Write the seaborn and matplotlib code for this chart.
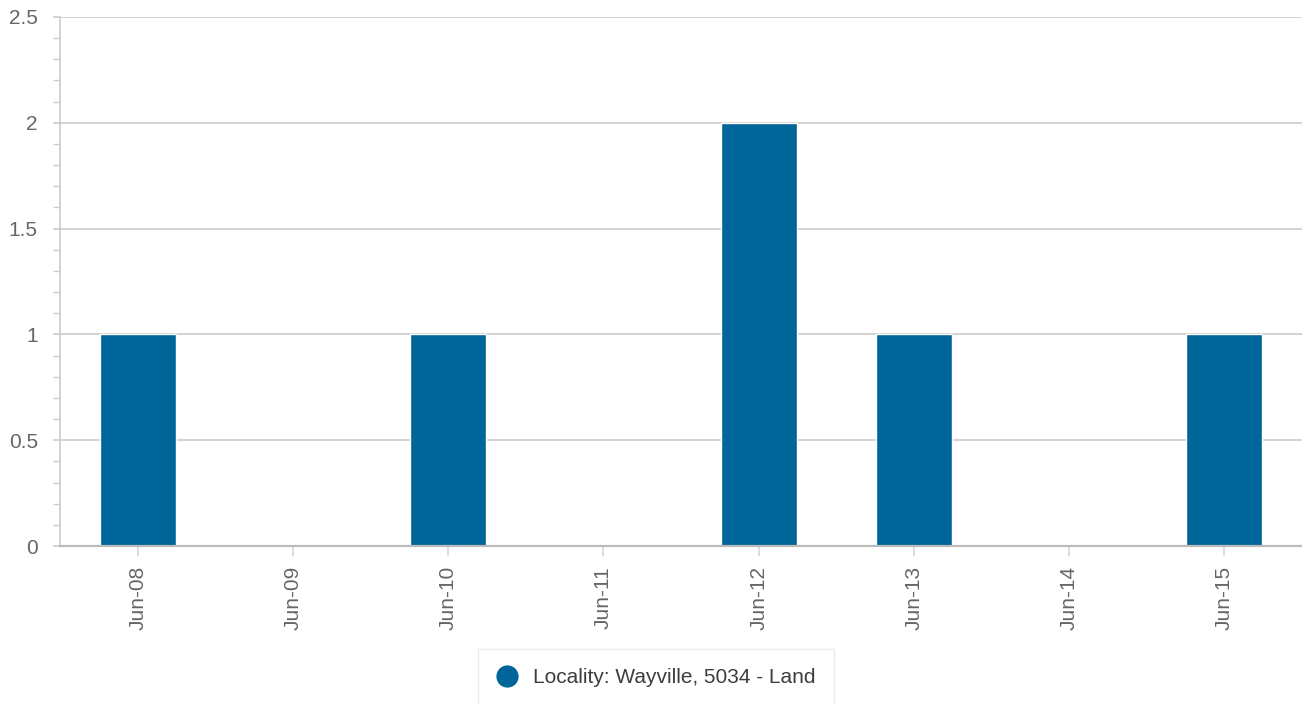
import matplotlib
matplotlib.use("Agg")
import matplotlib.pyplot as plt
import pandas as pd
import seaborn as sns
from matplotlib.lines import Line2D
from matplotlib.ticker import AutoMinorLocator, MultipleLocator, FormatStrFormatter

months = ["Jun-08", "Jun-09", "Jun-10", "Jun-11", "Jun-12", "Jun-13", "Jun-14", "Jun-15"]
counts = [1, 0, 1, 0, 2, 1, 0, 1]
series_name = "Locality: Wayville, 5034 - Land"

BAR = "#006699"
GRID = "#cccccc"
TEXT = "#666666"

sns.set_style("white")
plt.rcParams["font.family"] = ["Liberation Sans", "DejaVu Sans"]

df = pd.DataFrame({"month": months, "count": counts})

fig = plt.figure(figsize=(13.02, 7.04), dpi=100)
ax = fig.add_axes([60 / 1302, 1 - 546 / 704, 1242 / 1302, 529 / 704])

sns.barplot(data=df, x="month", y="count", color=BAR, saturation=1,
            width=0.49, edgecolor="white", linewidth=1, ax=ax, zorder=3)

ax.set_xlim(-0.5, len(months) - 0.5)
ax.set_ylim(0, 2.5)
ax.yaxis.set_major_locator(MultipleLocator(0.5))
ax.yaxis.set_minor_locator(AutoMinorLocator(5))
ax.yaxis.set_major_formatter(FormatStrFormatter("%g"))
ax.yaxis.grid(True, color=GRID, linewidth=1.2, zorder=0)
ax.set_axisbelow(True)

for side in ["top", "right"]:
    ax.spines[side].set_visible(False)
ax.spines["left"].set_color(GRID)
ax.spines["left"].set_linewidth(1.2)
ax.spines["bottom"].set_color("#bbbbbb")
ax.spines["bottom"].set_linewidth(1.6)
ax.spines["bottom"].set_zorder(5)

ax.tick_params(axis="y", which="major", length=5, width=1.2, color=GRID, left=True,
               labelsize=15, labelcolor=TEXT, pad=11)
ax.tick_params(axis="y", which="minor", length=5, width=1, color=GRID, left=True)
ax.tick_params(axis="x", length=7.5, width=1.2, color="#ccd6eb", bottom=True,
               labelsize=15, labelcolor=TEXT, pad=7, labelrotation=90)
ax.set_xlabel("")
ax.set_ylabel("")

handle = Line2D([], [], marker="o", linestyle="", markersize=15,
                markerfacecolor=BAR, markeredgecolor=BAR)
leg = fig.legend(handles=[handle], labels=[series_name], loc="upper center",
                 bbox_to_anchor=(656 / 1302, 1 - 639 / 704), frameon=True,
                 fontsize=15, handletextpad=0.75, borderpad=0.9,
                 fancybox=False, handlelength=1.0)
leg.get_frame().set_edgecolor("#e6e6e6")
leg.get_frame().set_linewidth(1)
for t in leg.get_texts():
    t.set_color("#3d3d3d")

fig.savefig("out.png", dpi=100)
